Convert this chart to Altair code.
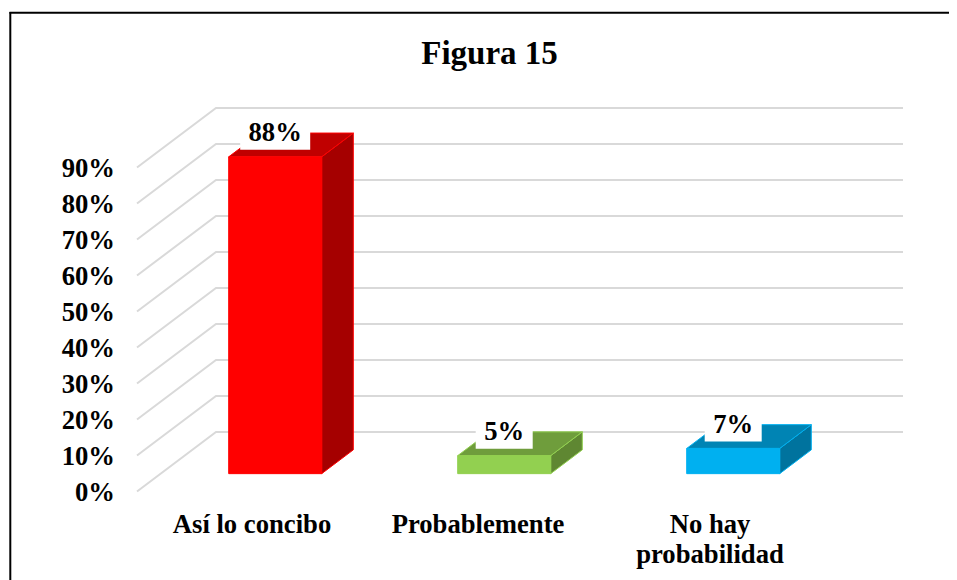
import json
import altair as alt
import pandas as pd

TITLE = "Figura 15"
CATEGORIES = [["Así lo concibo"], ["Probablemente"], ["No hay", "probabilidad"]]
CATEGORY_LABEL_POS = [0, 0.987, 2]
VALUES = [88, 5, 7]
LABELS = ["88%", "5%", "7%"]
Y_TICKS = [0, 10, 20, 30, 40, 50, 60, 70, 80, 90]
FRONT = ["#FF0000", "#92D050", "#00B0F0"]
TOP = ["#C00000", "#6F9D3C", "#0084B4"]
SIDE = ["#A50000", "#5F8732", "#00739E"]

# Page geometry and oblique projection of the 3-D chart
W, H = 941, 572
PX_CAT, PX_PCT = 229.0, 3.6
X0_PX, Y0_PX = 137.0, 491.5
DX, DY = 79 / PX_CAT, 59.5 / PX_PCT
HALF = 46.5 / PX_CAT
D0, D1 = 0.3, 0.7
X_END = (903 - X0_PX) / PX_CAT - 0.5 - DX


def px(i, off, d):
    return i + off + d * DX


def py(v, d):
    return v + d * DY


x_scale = alt.Scale(domain=[(8 - X0_PX) / PX_CAT - 0.5, (8 + W - X0_PX) / PX_CAT - 0.5], nice=False, zero=False)
y_scale = alt.Scale(domain=[(Y0_PX - 8 - H) / PX_PCT, (Y0_PX - 8) / PX_PCT], nice=False, zero=False)

grid_rows = []
for t in Y_TICKS:
    for k, (x, y) in enumerate([(-0.5, t), (-0.5 + DX, t + DY), (X_END + DX, t + DY)]):
        grid_rows.append(dict(t=t, k=k, x=x, y=y))

front_rows, side_rows, top_rows, box_rows, text_rows = [], [], [], [], []
for i, v in enumerate(VALUES):
    front_rows.append(dict(s=i, x=px(i, -HALF, D0), x2=px(i, HALF, D0), y=py(0, D0), y2=py(v, D0), fill=FRONT[i]))
    for k, d in enumerate([D0, D1]):
        side_rows.append(dict(s=i, k=k, x=px(i, HALF, d), y=py(0, d), y2=py(v, d), fill=SIDE[i], line=FRONT[i]))
        top_rows.append(dict(s=i, k=k, y=py(v, d), x=px(i, -HALF, d), x2=px(i, HALF, d), fill=TOP[i], line=FRONT[i]))
    half_box = (35.0 if len(LABELS[i]) > 2 else 28.5) / PX_CAT
    cx = px(i, 0, D0)
    box_rows.append(dict(x=cx - half_box, x2=cx + half_box, y=py(v, D0) + 7 / PX_PCT, y2=py(v, D0) + 37 / PX_PCT))
    text_rows.append(dict(x=cx, y=py(v, D0), label=LABELS[i]))

FONT = "Liberation Serif"
FS = 26.67

x_axis = alt.Axis(
    values=CATEGORY_LABEL_POS, title=None, domain=False, ticks=False, grid=False,
    labelExpr=f"{json.dumps(CATEGORIES, ensure_ascii=False)}[round(datum.value)]",
    labelFont=FONT, labelFontSize=FS, labelFontWeight="bold", labelColor="black",
    labelPadding=0, labelLineHeight=30.7, labelOverlap=False, labelFlush=False,
    offset=-69, orient="bottom",
)
y_axis = alt.Axis(
    values=Y_TICKS, title=None, domain=False, ticks=False, grid=False,
    labelExpr="datum.value + '%'",
    labelFont=FONT, labelFontSize=FS, labelFontWeight="bold", labelColor="black",
    labelPadding=0, labelOffset=1, labelOverlap=False, labelFlush=False,
    offset=-106.5, orient="left",
)


def X(f="x"):
    return alt.X(f"{f}:Q", scale=x_scale, axis=x_axis)


def Y(f="y"):
    return alt.Y(f"{f}:Q", scale=y_scale, axis=y_axis, stack=False)


grid = alt.Chart(pd.DataFrame(grid_rows)).mark_line(color="#D9D9D9", strokeWidth=2).encode(
    x=X(), y=Y(), detail="t:N", order="k:Q"
)
front = alt.Chart(pd.DataFrame(front_rows)).mark_rect(strokeWidth=1).encode(
    x=X(), x2="x2:Q", y=Y(), y2="y2:Q",
    fill=alt.Fill("fill:N", scale=None), stroke=alt.Stroke("fill:N", scale=None),
)
side = alt.Chart(pd.DataFrame(side_rows)).mark_area(strokeWidth=1).encode(
    x=X(), y=Y(), y2="y2:Q", detail="s:N",
    fill=alt.Fill("fill:N", scale=None), stroke=alt.Stroke("line:N", scale=None),
)
top = alt.Chart(pd.DataFrame(top_rows)).mark_area(strokeWidth=1, orient="horizontal").encode(
    y=Y(), x=X(), x2="x2:Q", detail="s:N",
    fill=alt.Fill("fill:N", scale=None), stroke=alt.Stroke("line:N", scale=None),
)
boxes = alt.Chart(pd.DataFrame(box_rows)).mark_rect(color="white").encode(
    x=X(), x2="x2:Q", y=Y(), y2="y2:Q"
)
texts = alt.Chart(pd.DataFrame(text_rows)).mark_text(
    font=FONT, fontSize=FS, fontWeight="bold", color="black", baseline="alphabetic", align="center", dy=-15.5
).encode(x=X(), y=Y(), text="label:N")

frame_top = alt.Chart(pd.DataFrame(dict(a=[0]))).mark_rule(color="black", strokeWidth=2).encode(
    x=alt.value(1.5), x2=alt.value(W), y=alt.value(4.8)
)
frame_left = alt.Chart(pd.DataFrame(dict(a=[0]))).mark_rule(color="black", strokeWidth=2).encode(
    x=alt.value(2.3), y=alt.value(4), y2=alt.value(H)
)

chart = alt.layer(grid, side, top, front, boxes, texts, frame_top, frame_left).properties(
    width=W, height=H,
    title=alt.TitleParams(
        TITLE, font=FONT, fontSize=33, fontWeight="bold", color="black",
        offset=-89, anchor="middle", dx=11, baseline="alphabetic",
    ),
    autosize=alt.AutoSizeParams(type="none"),
    padding=0,
    background="white",
).configure_view(stroke=None)

chart.save("out.html", embed_options={"renderer": "svg", "actions": False})
